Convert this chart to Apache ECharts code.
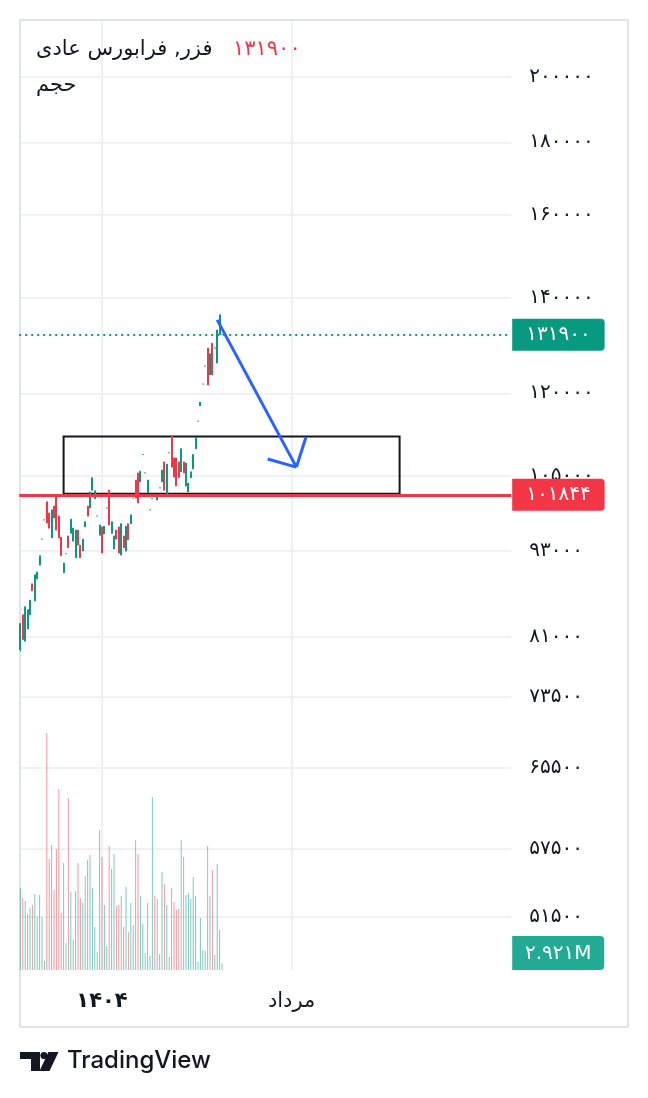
<!DOCTYPE html>
<html><head><meta charset="utf-8">
<script src="https://cdn.jsdelivr.net/npm/echarts@6/dist/echarts.min.js"></script>
<style>html,body{margin:0;padding:0;background:#fff;}#c{width:648px;height:1098px;}</style>
</head><body><div id="c"></div>
<script>
// ---- data ----
const symbolName = 'فزر, فرابورس عادی';
const volumeTitle = 'حجم';
const lastPrice = 131900;
const supportPrice = 101844;
const lastVolume = 2.921; // million
const priceTicks = [200000,180000,160000,140000,120000,105000,93000,81000,73500,65500,57500,51500];
const timeLabels = ['۱۴۰۴','مرداد'];
const timeLabelSlots = [34,113];
const slotCount = 205;
const opens = [79300,83900,80400,82000,83900,88200,85800,88900,90900,94800,
97800,100700,98900,95000,100000,101800,98400,95100,89800,92600,
95300,95700,94500,92000,96200,93900,93000,96700,100000,99700,
102600,101200,98400,95400,96700,95600,99700,102600,95700,93300,
96200,96700,92400,95300,93000,97200,97200,101300,104300,105500,
104000,108700,105500,102200,99400,101200,101900,101000,103000,104000,
107400,101800,109000,112000,108100,108100,107400,105700,107400,103300,
102300,104700,106200,109700,114700,117600,121800,125400,129100,123600,
130100,129100,126000,131900,131900];
const closes = [82700,80600,85000,84600,85900,87200,89500,89900,92300,94800,
97800,97300,96500,99400,98100,96200,95000,92300,91200,92600,
93500,97900,96500,96200,93900,92000,94800,97500,98400,102300,
104700,102500,98400,97000,92700,96800,99700,97000,97500,95300,
94800,92700,97200,93500,96800,94700,98600,101300,101300,100500,
105800,108700,105500,104300,99400,101200,101700,101500,103000,106000,
102600,107000,109000,106500,104800,103300,104700,109700,105500,107200,
103800,105700,108700,111800,114700,118300,121800,125400,121600,127900,
123600,129100,132900,136200,131900];
const lows = [79100,80600,80400,82000,83900,87200,85800,88900,90900,94800,
97800,97300,96500,95000,98100,96200,95000,92300,89800,92600,
93500,95700,94500,92000,93900,92000,93000,96700,98400,99700,
102600,101200,98400,95400,92700,95600,99700,97000,95700,93300,
94800,92700,92400,93500,93000,94700,97200,101300,101300,100500,
104000,108700,105500,102200,99400,101200,101700,101000,103000,104000,
102600,101800,109000,106500,104800,103300,104700,105700,105500,103300,
102300,104700,106200,109700,114700,117600,121800,125400,121600,123600,
123600,129100,126000,131900,131900];
const highs = [82800,83900,85000,84600,85900,88200,89500,89900,92300,94800,
97800,100700,98900,99400,100000,101800,98400,95100,91200,92600,
95300,97900,96500,96200,96200,93900,94800,97500,100000,102300,
104700,102500,98400,97000,96700,96800,99700,102600,97500,95300,
96200,96700,97200,95300,96800,97200,98600,101300,104300,105500,
105800,108700,105500,104300,99400,101200,101900,101500,103000,106000,
107400,107000,109000,112000,108100,108100,107400,109700,107400,107200,
103800,105700,108700,111800,114700,118300,121800,125400,129100,127900,
130100,129100,132900,136200,131900];
const volumes = [36.9,32.4,31.1,25.2,27.9,29.3,34.2,23.9,33.8,23.9,
4.1,106.7,50.0,56.3,36.0,54.5,81.5,25.7,48.2,12.2,
77.4,35.1,13.5,35.6,48.2,32.4,30.2,42.3,49.5,51.8,
36.9,19.4,8.1,63.0,50.9,29.3,10.8,55.8,45.5,52.2,
28.8,29.3,33.3,19.4,37.4,17.1,30.2,20.3,58.5,52.2,
33.3,20.7,7.7,30.2,6.3,77.9,33.3,32.0,7.2,44.1,
38.7,29.3,5.9,36.9,30.6,27.0,27.5,58.5,50.9,33.8,
34.7,32.0,41.9,33.3,3.6,23.4,9.0,8.6,55.8,33.3,
45.0,6.8,47.7,18.0,2.921];
// drawing annotations (slot index, price)
const boxFrom = [18, 111900];
const boxTo = [158, 102000];
const arrowStart = [82, 135100];
const arrowTip = [115, 106500];
const arrowWingA = [103, 107900];
const arrowWingB = [119, 111800];

// ---- helpers ----
const FA = '۰۱۲۳۴۵۶۷۸۹';
const fa = s => String(s).replace(/\d/g, d => FA[+d]);
const UP = '#089981', DOWN = '#f23645', TEXT = '#131722';
const GRIDC = '#f0f1f3';
const FONT = '"DejaVu Sans", sans-serif';

const categories = [];
for (let i = 0; i < slotCount; i++) {
  const k = timeLabelSlots.indexOf(i);
  categories.push(k >= 0 ? timeLabels[k] : ' ' + i);
}
const isLabelSlot = (idx) => timeLabelSlots.indexOf(idx) >= 0;

const candleData = opens.map((o, i) => [o, closes[i], lows[i], highs[i]]);
const volData = volumes.map((v, i) => ({
  value: v,
  itemStyle: { color: closes[i] >= opens[i] ? 'rgba(34,171,148,0.6)' : 'rgba(247,82,95,0.6)' }
}));

const chart = echarts.init(document.getElementById('c'), null, { renderer: 'canvas' });
const GRID = { left: 19.2, top: 20, width: 492, height: 950 };

const option = {
  animation: false,
  backgroundColor: '#ffffff',
  grid: [{ left: GRID.left, top: GRID.top, width: GRID.width, height: GRID.height, containLabel: false }],
  xAxis: [{
    type: 'category', data: categories, boundaryGap: true,
    axisLine: { show: false }, axisTick: { show: false, alignWithLabel: true },
    axisLabel: {
      interval: (idx) => isLabelSlot(idx),
      formatter: (v) => v === timeLabels[0] ? '{y|' + v + '}' : v.trim(),
      color: TEXT, fontSize: 21, fontFamily: FONT, margin: 21,
      rich: { y: { fontWeight: 'bold', fontSize: 21, fontFamily: FONT, color: TEXT } }
    },
    splitLine: { show: true, alignWithLabel: true, interval: (idx) => isLabelSlot(idx), lineStyle: { color: GRIDC, width: 2 } }
  }],
  yAxis: [{
    type: 'log', logBase: 10, position: 'right',
    min: 47267, max: 219300,
    axisLine: { show: false },
    axisTick: { show: false, customValues: priceTicks },
    axisLabel: {
      customValues: priceTicks,
      formatter: (v) => fa(Math.round(v)),
      color: TEXT, fontSize: 20, fontFamily: FONT, margin: 18
    },
    splitLine: { show: true, lineStyle: { color: GRIDC, width: 2 } }
  }, {
    type: 'value', min: 0, max: 427.5, show: false,
    splitLine: { show: false }
  }],
  series: [{
    type: 'bar', xAxisIndex: 0, yAxisIndex: 1, data: volData,
    barWidth: 1, silent: true, z: 1
  }, {
    type: 'candlestick', xAxisIndex: 0, yAxisIndex: 0, data: candleData,
    barWidth: 1.6, silent: true, z: 3,
    itemStyle: { color: UP, color0: DOWN, borderColor: UP, borderColor0: DOWN, borderColorDoji: UP, borderWidth: 1 },
    markArea: {
      silent: true,
      itemStyle: { color: 'rgba(0,0,0,0)', borderColor: TEXT, borderWidth: 2 },
      label: { show: false },
      data: [[{ coord: boxFrom }, { coord: boxTo }]]
    },
    markLine: {
      silent: true, symbol: ['none', 'none'], animation: false,
      data: [
        { yAxis: lastPrice, lineStyle: { color: UP, type: [2, 4], width: 2 },
          label: { show: true, position: 'end', distance: 1, formatter: fa(lastPrice), color: '#fff',
            backgroundColor: UP, padding: [7, 14, 5, 14], borderRadius: [0, 4, 4, 0], fontSize: 20, fontFamily: FONT } },
        { yAxis: supportPrice, lineStyle: { color: DOWN, type: 'solid', width: 3 },
          label: { show: true, position: 'end', distance: 1, formatter: fa(supportPrice), color: '#fff',
            backgroundColor: DOWN, padding: [7, 14, 5, 14], borderRadius: [0, 4, 4, 0], fontSize: 20, fontFamily: FONT } },
        [{ coord: arrowStart, lineStyle: { color: '#2962ff', width: 3, type: 'solid' }, label: { show: false } }, { coord: arrowTip }],
        [{ coord: arrowWingA, lineStyle: { color: '#2962ff', width: 3, type: 'solid' }, label: { show: false } }, { coord: arrowTip }],
        [{ coord: arrowWingB, lineStyle: { color: '#2962ff', width: 3, type: 'solid' }, label: { show: false } }, { coord: arrowTip }]
      ]
    }
  }]
};
chart.setOption(option);

// volume last-value badge, placed through the volume axis scale
const volPt = chart.convertToPixel({ seriesIndex: 0 }, [opens.length - 1, lastVolume]);
const badgeH = 34;
const plotBottom = GRID.top + GRID.height;
let volY = (volPt && isFinite(volPt[1])) ? volPt[1] : plotBottom - badgeH / 2;
const badgeY = Math.min(volY, plotBottom - badgeH / 2) - badgeH / 2;

chart.setOption({
  graphic: [
    { id: 'frame', type: 'rect', shape: { x: 20, y: 20, width: 608, height: 1007 }, style: { fill: 'rgba(0,0,0,0)', stroke: '#e0e3eb', lineWidth: 2 }, silent: true },
    { id: 't1', type: 'text', x: 36, y: 50, style: { text: symbolName, fill: TEXT, font: '21px ' + FONT, align: 'left', verticalAlign: 'middle' } },
    { id: 't2', type: 'text', x: 233, y: 50, style: { text: fa(lastPrice), fill: DOWN, font: '21px ' + FONT, align: 'left', verticalAlign: 'middle' } },
    { id: 't3', type: 'text', x: 36, y: 86, style: { text: volumeTitle, fill: TEXT, font: '21px ' + FONT, align: 'left', verticalAlign: 'middle' } },
    { id: 'logo1', type: 'polygon', shape: { points: [[20,1052],[40,1052],[40,1071],[31,1071],[31,1059],[20,1059]] }, style: { fill: TEXT } },
    { id: 'logo2', type: 'circle', shape: { cx: 44, cy: 1055.5, r: 3.6 }, style: { fill: TEXT } },
    { id: 'logo3', type: 'polygon', shape: { points: [[48.5,1052],[58.5,1052],[49.5,1071],[39.5,1071]] }, style: { fill: TEXT } },
    { id: 'logo4', type: 'text', x: 67, y: 1061, style: { text: 'TradingView', fill: TEXT, font: '500 24px Inter, Roboto, sans-serif', align: 'left', verticalAlign: 'middle' } },
    { id: 'volBadgeRect', type: 'rect', z: 10, shape: { x: GRID.left + GRID.width + 1, y: badgeY, width: 92, height: badgeH, r: [0, 4, 4, 0] }, style: { fill: '#22ab94' } },
    { id: 'volBadgeText', type: 'text', z: 11, x: GRID.left + GRID.width + 1 + 46, y: badgeY + badgeH / 2 + 1, style: { text: fa(lastVolume) + 'M', fill: '#fff', font: '20px ' + FONT, align: 'center', verticalAlign: 'middle' } }
  ]
});
</script>
</body></html>
